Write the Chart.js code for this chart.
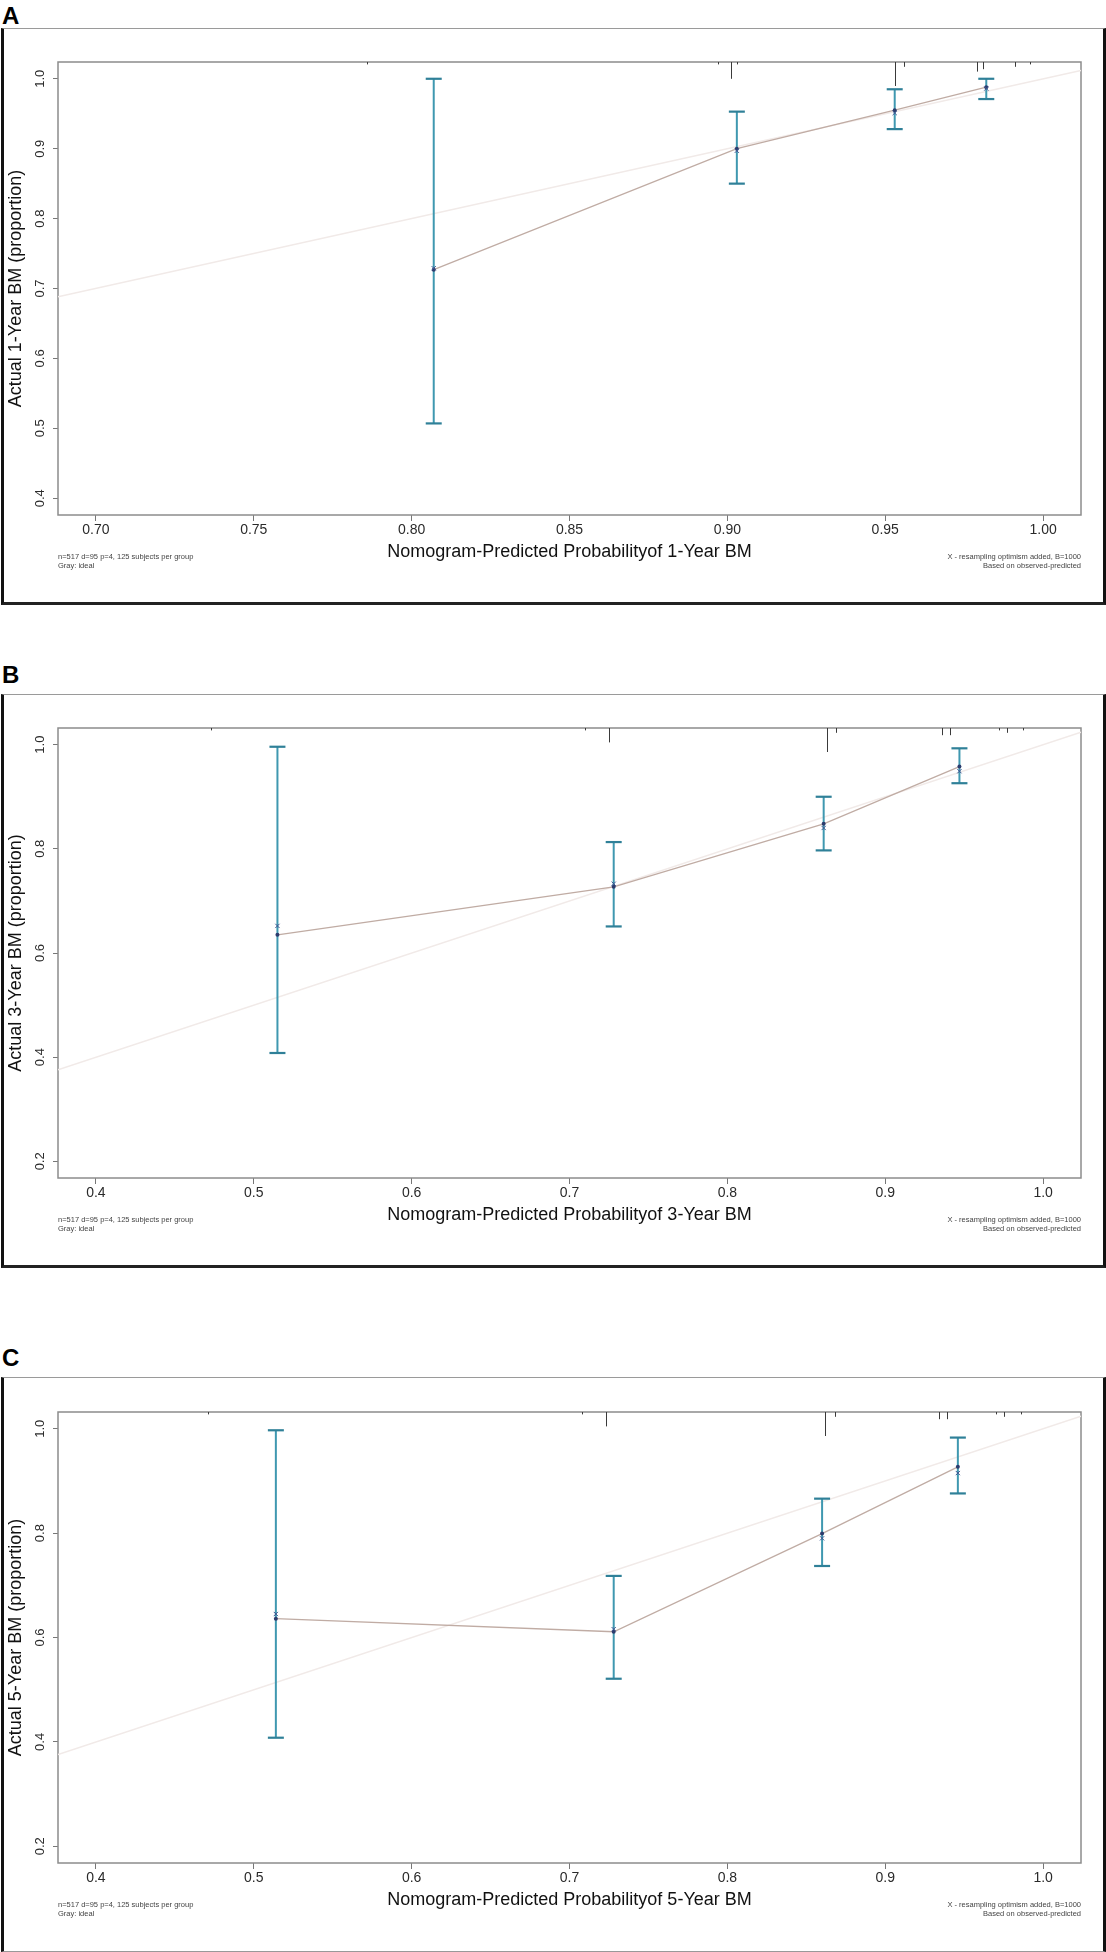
<!DOCTYPE html>
<html>
<head>
<meta charset="utf-8">
<title>Calibration curves</title>
<script src="https://cdn.jsdelivr.net/npm/chart.js@4.4.1/dist/chart.umd.min.js"></script>
<style>
  body { margin:0; background:#fff; width:1106px; height:1952px; position:relative; overflow:hidden;
         font-family:"Liberation Sans", Arial, sans-serif; }
  .lab { position:absolute; left:2px; font-weight:bold; font-size:24px; line-height:24px; color:#000; }
  .frame { position:absolute; left:1px; width:1105px; box-sizing:border-box; pointer-events:none;
           border-top:1.5px solid #9a9a9a; border-left:3px solid #111; border-right:3px solid #111; border-bottom:3px solid #222; }
  .wrap { position:absolute; left:3px; width:1100px; }
  .note { position:absolute; font-size:7.5px; line-height:8.5px; color:#444; white-space:pre; }
  .note.r { text-align:right; right:25px; }
  .note.l { left:58px; }
</style>
</head>
<body>

<div class="lab" style="top:4px">A</div>
<div class="wrap" style="top:29px;height:574px"><canvas id="chartA" width="1100" height="574"></canvas></div>
<div class="frame" style="top:28px;height:577px"></div>
<div class="note l" style="top:553px">n=517 d=95 p=4, 125 subjects per group
Gray: ideal</div>
<div class="note r" style="top:553px">X - resampling optimism added, B=1000
Based on observed-predicted</div>

<div class="lab" style="top:663px">B</div>
<div class="wrap" style="top:695px;height:571px"><canvas id="chartB" width="1100" height="571"></canvas></div>
<div class="frame" style="top:694px;height:574px"></div>
<div class="note l" style="top:1216px">n=517 d=95 p=4, 125 subjects per group
Gray: ideal</div>
<div class="note r" style="top:1216px">X - resampling optimism added, B=1000
Based on observed-predicted</div>

<div class="lab" style="top:1346px">C</div>
<div class="wrap" style="top:1378px;height:573px"><canvas id="chartC" width="1100" height="573"></canvas></div>
<div class="frame" style="top:1377px;height:575px;border-bottom:1.5px solid #999"></div>
<div class="note l" style="top:1901px">n=517 d=95 p=4, 125 subjects per group
Gray: ideal</div>
<div class="note r" style="top:1901px">X - resampling optimism added, B=1000
Based on observed-predicted</div>

<script>
// ---- panel A : 1-year
const predA = [0.807, 0.903, 0.953, 0.982];
const obsA  = [0.727, 0.900, 0.955, 0.988];
const corrA = [0.729, 0.897, 0.951, 0.986];
const loA   = [0.507, 0.850, 0.928, 0.971];
const hiA   = [1.000, 0.953, 0.985, 1.000];
const rugA     = [0.786, 0.897, 0.901, 0.903, 0.953, 0.956, 0.979, 0.981, 0.991, 0.996];
const rugFreqA = [1, 1, 7, 1, 10, 2, 4, 3, 2, 1];
const xTicksA = [0.70, 0.75, 0.80, 0.85, 0.90, 0.95, 1.00];
const yTicksA = [0.4, 0.5, 0.6, 0.7, 0.8, 0.9, 1.0];
const xLimA = [0.688, 1.012];
const yLimA = [0.376, 1.024];

// ---- panel B : 3-year
const predB = [0.515, 0.728, 0.861, 0.947];
const obsB  = [0.635, 0.727, 0.848, 0.958];
const corrB = [0.652, 0.733, 0.840, 0.949];
const loB   = [0.408, 0.651, 0.797, 0.926];
const hiB   = [0.996, 0.813, 0.900, 0.993];
const rugB     = [0.473, 0.710, 0.725, 0.863, 0.869, 0.936, 0.941, 0.972, 0.977, 0.987];
const rugFreqB = [1, 1, 6, 10, 2, 3, 3, 1, 2, 1];

// ---- panel C : 5-year
const predC = [0.514, 0.728, 0.860, 0.946];
const obsC  = [0.636, 0.611, 0.799, 0.927];
const corrC = [0.645, 0.616, 0.790, 0.915];
const loC   = [0.408, 0.521, 0.737, 0.876];
const hiC   = [0.997, 0.718, 0.866, 0.983];
const rugC     = [0.471, 0.708, 0.723, 0.862, 0.868, 0.934, 0.939, 0.970, 0.975, 0.986];
const rugFreqC = [1, 1, 6, 10, 2, 3, 3, 1, 2, 1];

const xTicksBC = [0.4, 0.5, 0.6, 0.7, 0.8, 0.9, 1.0];
const yTicksBC = [0.2, 0.4, 0.6, 0.8, 1.0];
const xLimBC = [0.376, 1.024];
const yLimBC = [0.168, 1.032];

const FONT = '"Liberation Sans", Arial, sans-serif';

// box round the plot + rug of predictions along the top
const plotBox = {
  id: 'plotBox',
  beforeDatasetsDraw(chart) {
    const a = chart.chartArea, ctx = chart.ctx;
    ctx.save();
    ctx.strokeStyle = '#8c8c8c';
    ctx.lineWidth = 1.5;
    ctx.strokeRect(a.left, a.top, a.right - a.left, a.bottom - a.top);
    ctx.restore();
  },
  afterDatasetsDraw(chart, args, opts) {
    const a = chart.chartArea, ctx = chart.ctx, xs = chart.scales.x;
    ctx.save();
    ctx.strokeStyle = '#3a3a3a';
    ctx.lineWidth = 1;
    opts.rug.forEach((v, i) => {
      const px = Math.round(xs.getPixelForValue(v)) + 0.5;
      ctx.beginPath();
      ctx.moveTo(px, a.top);
      ctx.lineTo(px, a.top + 2.4 * opts.freq[i]);
      ctx.stroke();
    });
    ctx.restore();
  }
};

function makeDatasets(pred, obs, corr, lo, hi, lim) {
  const ds = [];
  // ideal line
  ds.push({ type: 'line', data: [{x: lim[0], y: lim[0]}, {x: lim[1], y: lim[1]}],
    borderColor: '#f1eae8', borderWidth: 1.5, pointRadius: 0, order: 10 });
  // error bars
  pred.forEach((p, i) => {
    ds.push({ type: 'line', data: [{x: p, y: lo[i]}, {x: p, y: hi[i]}],
      borderColor: '#3f98b0', borderWidth: 2, pointStyle: 'line', pointRadius: 8,
      pointBorderColor: '#2f8098', pointBorderWidth: 2.2, order: 5 });
  });
  // observed
  ds.push({ type: 'line', data: pred.map((p, i) => ({x: p, y: obs[i]})),
    borderColor: '#c0aca4', borderWidth: 1.3, pointRadius: 2,
    pointBackgroundColor: '#2c3c6e', pointBorderColor: '#2c3c6e', pointBorderWidth: 0, order: 2 });
  // bias corrected
  ds.push({ type: 'scatter', data: pred.map((p, i) => ({x: p, y: corr[i]})), showLine: false,
    pointStyle: 'crossRot', pointRadius: 3, borderColor: '#3e5590', pointBorderColor: '#3e5590',
    borderWidth: 1, order: 1 });
  return ds;
}

function makeChart(id, p) {
  new Chart(document.getElementById(id), {
    type: 'scatter',
    data: { datasets: makeDatasets(p.pred, p.obs, p.corr, p.lo, p.hi, p.xLim) },
    plugins: [plotBox],
    options: {
      responsive: false,
      animation: false,
      events: [],
      layout: { padding: { left: 0, top: p.top, right: 22, bottom: 0 } },
      plugins: {
        legend: { display: false },
        tooltip: { enabled: false },
        plotBox: { rug: p.rug, freq: p.freq }
      },
      scales: {
        x: {
          type: 'linear', min: p.xLim[0], max: p.xLim[1],
          afterBuildTicks: s => { s.ticks = p.xTicks.map(v => ({value: v})); },
          afterFit: s => { s.height = 88; },
          ticks: { autoSkip: false, maxRotation: 0, padding: 1, color: '#2a2a2a',
                   font: { family: FONT, size: 14 }, callback: v => v.toFixed(p.xDec) },
          grid: { drawOnChartArea: false, drawTicks: true, tickLength: 6, color: '#777', lineWidth: 1 },
          border: { display: false },
          title: { display: true, text: p.xTitle, color: '#111',
                   font: { family: FONT, size: 18 }, padding: { top: 0, bottom: 40 } }
        },
        y: {
          type: 'linear', min: p.yLim[0], max: p.yLim[1],
          afterBuildTicks: s => { s.ticks = p.yTicks.map(v => ({value: v})); },
          afterFit: s => { s.width = 55; },
          ticks: { autoSkip: false, minRotation: 90, maxRotation: 90, crossAlign: 'center', padding: 4,
                   color: '#2a2a2a', font: { family: FONT, size: 13 }, callback: v => v.toFixed(1) },
          grid: { drawOnChartArea: false, drawTicks: true, tickLength: 5, color: '#777', lineWidth: 1 },
          border: { display: false },
          title: { display: true, text: p.yTitle, color: '#111',
                   font: { family: FONT, size: 18 }, padding: { top: 2, bottom: 0 } }
        }
      }
    }
  });
}

makeChart('chartA', { pred: predA, obs: obsA, corr: corrA, lo: loA, hi: hiA, rug: rugA, freq: rugFreqA,
  xTicks: xTicksA, yTicks: yTicksA, xLim: xLimA, yLim: yLimA, xDec: 2, top: 33,
  xTitle: 'Nomogram-Predicted Probabilityof 1-Year BM', yTitle: 'Actual 1-Year BM (proportion)' });

makeChart('chartB', { pred: predB, obs: obsB, corr: corrB, lo: loB, hi: hiB, rug: rugB, freq: rugFreqB,
  xTicks: xTicksBC, yTicks: yTicksBC, xLim: xLimBC, yLim: yLimBC, xDec: 1, top: 33,
  xTitle: 'Nomogram-Predicted Probabilityof 3-Year BM', yTitle: 'Actual 3-Year BM (proportion)' });

makeChart('chartC', { pred: predC, obs: obsC, corr: corrC, lo: loC, hi: hiC, rug: rugC, freq: rugFreqC,
  xTicks: xTicksBC, yTicks: yTicksBC, xLim: xLimBC, yLim: yLimBC, xDec: 1, top: 34,
  xTitle: 'Nomogram-Predicted Probabilityof 5-Year BM', yTitle: 'Actual 5-Year BM (proportion)' });
</script>
</body>
</html>
